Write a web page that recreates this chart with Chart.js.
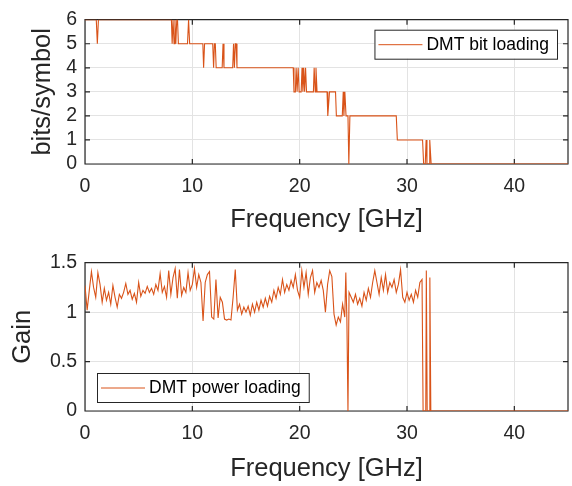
<!DOCTYPE html>
<html>
<head>
<meta charset="utf-8">
<script src="https://cdn.jsdelivr.net/npm/chart.js@4.4.0/dist/chart.umd.min.js"></script>
<style>
  html, body { margin: 0; padding: 0; background: #fff; }
  #wrap { position: relative; width: 572px; height: 486px; }
  .pane { position: absolute; left: 0; width: 572px; height: 243px; }
</style>
</head>
<body>
<div id="wrap">
  <div class="pane" style="top:0"><canvas id="bits"></canvas></div>
  <div class="pane" style="top:243px"><canvas id="gain"></canvas></div>
</div>
<script>
// tick labels
const freqTicks = [0, 10, 20, 30, 40];
const bitsTicks = [0, 1, 2, 3, 4, 5, 6];
const gainTicks = [0, 0.5, 1, 1.5];

// DMT bit loading (breakpoints)
const bitsFreq = [
  0, 1.05, 1.15, 1.25, 8.05, 8.12, 8.2, 8.3, 8.38, 8.46, 8.55, 8.62, 8.7,
  9.55, 9.65, 9.75, 10.98, 11.05, 11.14, 11.9, 11.98, 12.06, 12.14, 12.22,
  12.78, 12.86, 12.95, 13.76, 13.84, 13.92, 14.0, 14.08, 14.16,
  19.4, 19.47, 19.6, 19.67, 19.76, 19.86, 19.95, 20.14, 20.22, 20.3, 20.38,
  20.46, 20.55, 20.64, 21.28, 21.35, 21.45, 21.52, 21.62,
  22.55, 22.62, 22.78, 23.34, 23.42, 23.97, 24.06, 24.12, 24.21, 24.32,
  24.5, 24.58, 24.68, 29.0, 29.1, 31.45, 31.55, 31.7, 31.78, 31.86,
  32.05, 32.12, 32.25, 45
];
const bitsVal = [
  6, 6, 5, 6, 6, 5, 6, 5, 6, 5, 6, 6, 5,
  5, 6, 5, 5, 4, 5, 5, 4, 5, 5, 4,
  4, 5, 4, 4, 5, 4, 5, 5, 4,
  4, 3, 3, 4, 3, 4, 3, 3, 4, 3, 4,
  3, 4, 3, 3, 4, 3, 4, 3,
  3, 2, 3, 3, 2, 2, 3, 2, 3, 2,
  2, 0, 2, 2, 1, 1, 0, 0, 1, 0,
  0, 1, 0, 0
];

// DMT power loading
const gainFreq = [
  0, 0.2, 0.4, 0.6, 0.8, 1.0, 1.2, 1.4, 1.6, 1.8, 2.0, 2.2, 2.4, 2.6, 2.8,
  3.0, 3.2, 3.4, 3.6, 3.8, 4.0, 4.2, 4.4, 4.6, 4.8, 5.0, 5.2, 5.4, 5.6, 5.8,
  6.0, 6.2, 6.4, 6.6, 6.8, 7.0, 7.2, 7.4, 7.6, 7.8, 8.0, 8.2, 8.4, 8.6, 8.8,
  9.0, 9.2, 9.4, 9.6, 9.8, 10.0, 10.2, 10.4, 10.6, 10.8,
  11.0, 11.2, 11.4, 11.6, 11.8, 12.0, 12.2, 12.4, 12.6, 12.8, 13.0, 13.2,
  13.4, 13.6, 13.8, 14.0, 14.2, 14.4, 14.6, 14.8, 15.0, 15.2, 15.4, 15.6,
  15.8, 16.0, 16.2, 16.4, 16.6, 16.8, 17.0, 17.2, 17.4, 17.6, 17.8, 18.0,
  18.2, 18.4, 18.6, 18.8, 19.0, 19.2, 19.4, 19.6, 19.8, 20.0, 20.2, 20.4,
  20.6, 20.8, 21.0, 21.2, 21.4, 21.6, 21.8, 22.0, 22.2, 22.4, 22.6, 22.8,
  23.0, 23.2, 23.4, 23.6, 23.8, 24.0, 24.2, 24.3, 24.4, 24.5, 24.6,
  24.8, 25.0, 25.2, 25.4, 25.6, 25.8, 26.0, 26.2, 26.4, 26.6, 26.8, 27.0,
  27.2, 27.4, 27.6, 27.8, 28.0, 28.2, 28.4, 28.6, 28.8, 29.0, 29.2, 29.4,
  29.6, 29.8, 30.0, 30.2, 30.4, 30.6, 30.8, 31.0, 31.2, 31.4,
  31.5, 31.75, 31.8, 31.88, 32.08, 32.13, 32.22, 45
];
const gainVal = [
  1.27, 1.02, 1.22, 1.41, 1.25, 1.15, 1.40, 1.28, 1.10, 1.24, 1.12, 1.20, 1.08, 1.27, 1.15,
  1.05, 1.18, 1.14, 1.20, 1.29, 1.18, 1.22, 1.13, 1.19, 1.10, 1.30, 1.16, 1.22, 1.19, 1.26,
  1.20, 1.24, 1.18, 1.28, 1.22, 1.39, 1.20, 1.26, 1.15, 1.42, 1.18, 1.35, 1.44, 1.14, 1.43,
  1.17, 1.25, 1.20, 1.40, 1.22, 1.28, 1.44, 1.25, 1.38, 1.30,
  0.91, 1.30, 1.38, 1.41, 0.95, 0.93, 1.33, 0.94, 1.15, 1.10, 0.93, 0.92,
  0.93, 0.92, 1.15, 1.43, 1.02, 1.08, 0.98, 1.05, 1.00, 1.06, 0.97, 1.08,
  1.00, 1.10, 1.02, 1.12, 1.05, 1.14, 1.06, 1.16, 1.10, 1.22, 1.14, 1.25,
  1.18, 1.33, 1.20, 1.28, 1.22, 1.32, 1.25, 1.38, 1.22, 1.15, 1.42, 1.25,
  1.40, 1.18, 1.35, 1.42, 1.20, 1.30, 1.25, 1.32, 1.22, 1.00, 1.28, 1.42,
  1.36, 0.98, 0.87, 0.95, 0.90, 1.08, 0.95, 1.40, 0.92, 0, 1.20,
  1.15, 1.10, 1.18, 1.08, 1.14, 1.06, 1.20, 1.12, 1.24, 1.15, 1.30, 1.42,
  1.30, 1.18, 1.35, 1.22, 1.38, 1.20, 1.30, 1.25, 1.33, 1.20, 1.28, 1.43,
  1.15, 1.10, 1.20, 1.12, 1.18, 1.10, 1.22, 1.15, 1.30, 1.33,
  0, 0, 1.42, 0, 0, 1.35, 0, 0
];

const lineColor = "#D95319";
const axisColor = "#262626";
const gridColor = "#e3e3e3";
const family = '"Liberation Sans", Arial, Helvetica, sans-serif';

// box with inward ticks on all four sides, like the original figure
const axesBox = {
  id: "axesBox",
  beforeDatasetsDraw(chart) {
    const { ctx, chartArea: a, scales } = chart;
    const len = 5;
    ctx.save();
    ctx.strokeStyle = axisColor;
    ctx.lineWidth = 1.2;
    ctx.beginPath();
    ctx.rect(a.left, a.top, a.right - a.left, a.bottom - a.top);
    scales.x.ticks.forEach((t) => {
      const px = scales.x.getPixelForValue(t.value);
      ctx.moveTo(px, a.bottom); ctx.lineTo(px, a.bottom - len);
      ctx.moveTo(px, a.top); ctx.lineTo(px, a.top + len);
    });
    scales.y.ticks.forEach((t) => {
      const py = scales.y.getPixelForValue(t.value);
      ctx.moveTo(a.left, py); ctx.lineTo(a.left + len, py);
      ctx.moveTo(a.right, py); ctx.lineTo(a.right - len, py);
    });
    ctx.stroke();
    ctx.restore();
  },
};

// boxed legend in a corner of the plot area
const boxLegend = {
  id: "boxLegend",
  afterDraw(chart, args, opts) {
    const { ctx, chartArea: a } = chart;
    const label = chart.data.datasets[0].label;
    ctx.save();
    ctx.font = "17.5px " + family;
    const tw = ctx.measureText(label).width;
    const w = 52 + tw + 8;
    const h = 29;
    const bx = opts.corner === "tr" ? a.right - 11 - w : a.left + 12;
    const by = opts.corner === "tr" ? a.top + 10 : a.bottom - 9 - h;
    ctx.fillStyle = "#fff";
    ctx.fillRect(bx, by, w, h);
    ctx.strokeStyle = axisColor;
    ctx.lineWidth = 1;
    ctx.strokeRect(bx + 0.5, by + 0.5, w, h);
    ctx.strokeStyle = lineColor;
    ctx.beginPath();
    ctx.moveTo(bx + 4, by + h / 2 + 0.5);
    ctx.lineTo(bx + 48, by + h / 2 + 0.5);
    ctx.stroke();
    ctx.fillStyle = "#000";
    ctx.textBaseline = "middle";
    ctx.fillText(label, bx + 52, by + h / 2 + 1);
    ctx.restore();
  },
};

function makePanel(id, opt) {
  const points = opt.xs.map((x, i) => ({ x: x, y: opt.ys[i] }));
  return new Chart(document.getElementById(id), {
    type: "line",
    data: {
      datasets: [{
        label: opt.label,
        data: points,
        borderColor: lineColor,
        borderWidth: 1.1,
        pointRadius: 0,
        tension: 0,
        fill: false,
      }],
    },
    options: {
      responsive: true,
      maintainAspectRatio: false,
      animation: false,
      parsing: false,
      layout: { padding: { top: opt.padTop, right: 4, left: 0, bottom: 0 } },
      plugins: {
        legend: { display: false },
        tooltip: { enabled: false },
        boxLegend: { corner: opt.corner },
      },
      scales: {
        x: {
          type: "linear",
          min: 0,
          max: 45,
          afterBuildTicks: (s) => { s.ticks = freqTicks.map((v) => ({ value: v })); },
          afterFit: (s) => { s.height = opt.xHeight; },
          border: { display: false },
          grid: { color: gridColor, drawTicks: false },
          ticks: {
            color: axisColor,
            font: { family: family, size: 19.5 },
            padding: 11,
            maxRotation: 0,
            autoSkip: false,
            callback: (v) => String(v),
          },
          title: {
            display: true,
            text: "Frequency [GHz]",
            color: axisColor,
            font: { family: family, size: 25.5 },
            padding: { top: 0, bottom: opt.xTitlePad },
          },
        },
        y: {
          min: 0,
          max: opt.yMax,
          afterBuildTicks: (s) => { s.ticks = opt.yTicks.map((v) => ({ value: v })); },
          afterFit: (s) => { s.width = 85; },
          border: { display: false },
          grid: { color: gridColor, drawTicks: false },
          ticks: {
            color: axisColor,
            font: { family: family, size: 19.5 },
            padding: 8,
            autoSkip: false,
            callback: (v) => String(v),
          },
          title: {
            display: true,
            text: opt.yTitle,
            color: axisColor,
            font: { family: family, size: 25.5 },
            padding: { top: opt.yTitlePad, bottom: 0 },
          },
        },
      },
    },
    plugins: [axesBox, boxLegend],
  });
}

makePanel("bits", {
  xs: bitsFreq, ys: bitsVal, label: "DMT bit loading",
  yMax: 6, yTicks: bitsTicks, yTitle: "bits/symbol",
  padTop: 13, xHeight: 79, xTitlePad: 8, yTitlePad: 28, corner: "tr",
});

makePanel("gain", {
  xs: gainFreq, ys: gainVal, label: "DMT power loading",
  yMax: 1.5, yTicks: gainTicks, yTitle: "Gain",
  padTop: 19, xHeight: 75, xTitlePad: 2, yTitlePad: 8, corner: "bl",
});
</script>
</body>
</html>
